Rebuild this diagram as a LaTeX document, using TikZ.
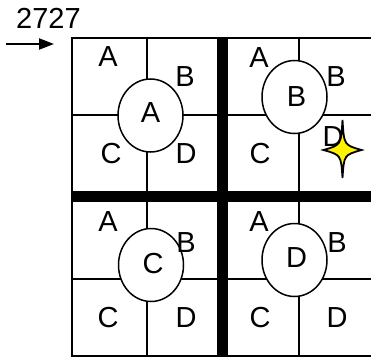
\documentclass[tikz,border=0pt]{standalone}
\usepackage{fontspec}
\setmainfont{Liberation Sans}
\usetikzlibrary{arrows.meta,shapes.geometric}
\begin{document}
\begin{tikzpicture}[x=1pt,y=-1pt,
  lbl/.style={inner sep=0pt,font=\fontsize{29}{32}\selectfont},
  thin grid/.style={line width=2pt},
  thick bar/.style={line width=11pt},
  ring/.style={draw,fill=white,line width=1.5pt,ellipse,minimum width=65pt,minimum height=73pt,inner sep=0pt},
]
\useasboundingbox (0,0) rectangle (371,358);
% outer frame (right side lies beyond the picture's edge)
\draw[thin grid] (374,38) -- (72,38) -- (72,356) -- (374,356);
% thin grid lines
\draw[thin grid] (147,38) -- (147,356);
\draw[thin grid] (299,38) -- (299,356);
\draw[thin grid] (72,115) -- (374,115);
\draw[thin grid] (72,279) -- (374,279);
% thick bars
\draw[thick bar] (222.5,38) -- (222.5,356);
\draw[thick bar] (72,196.5) -- (374,196.5);
% circles
\node[ring] (cA) at (150.5,115.5) {};
\node[ring] (cB) at (294.5,97) {};
\node[ring] (cC) at (151,265) {};
\node[ring] (cD) at (294.5,260) {};
\node[lbl] (tA) at ([yshift=3pt]cA) {A};
\node[lbl] (tB) at ([xshift=2pt]cB) {B};
\node[lbl] (tC) at ([xshift=2pt,yshift=1pt]cC) {C};
\node[lbl] (tD) at ([xshift=2pt,yshift=2pt]cD) {D};
% quadrant top-left
\node[lbl] (q1a) at (108,57) {A};
\node[lbl] (q1b) at (185,77) {B};
\node[lbl] (q1c) at (111,154) {C};
\node[lbl] (q1d) at (186,154) {D};
% quadrant top-right
\node[lbl] (q2a) at (259,58) {A};
\node[lbl] (q2b) at (336,77) {B};
\node[lbl] (q2c) at (260,154) {C};
\node[lbl] (q2d) at (333,137) {D};
% quadrant bottom-left
\node[lbl] (q3a) at (108,222) {A};
\node[lbl] (q3b) at (186,243) {B};
\node[lbl] (q3c) at (108,318) {C};
\node[lbl] (q3d) at (186,318) {D};
% quadrant bottom-right
\node[lbl] (q4a) at (259,222) {A};
\node[lbl] (q4b) at (337,243) {B};
\node[lbl] (q4c) at (260,318) {C};
\node[lbl] (q4d) at (337,318) {D};
% star
\coordinate (st) at (342.5,150);
\draw[fill=yellow,line width=1.8pt,line join=miter]
  ([yshift=-28pt]st) .. controls ([xshift=1.5pt,yshift=-5pt]st) .. ([xshift=19pt]st)
  .. controls ([xshift=1.5pt,yshift=5pt]st) .. ([yshift=30pt]st)
  .. controls ([xshift=-1.5pt,yshift=5pt]st) .. ([xshift=-19pt]st)
  .. controls ([xshift=-1.5pt,yshift=-5pt]st) .. cycle;
% label and arrow
\node[lbl] (num) at (48.5,18) {2727};
\coordinate (arS) at (6,44);
\coordinate (arE) at (54,44);
\draw[line width=2.2pt,-{Triangle[length=15pt,width=11pt]}] (arS) -- (arE);
\end{tikzpicture}
\end{document}
